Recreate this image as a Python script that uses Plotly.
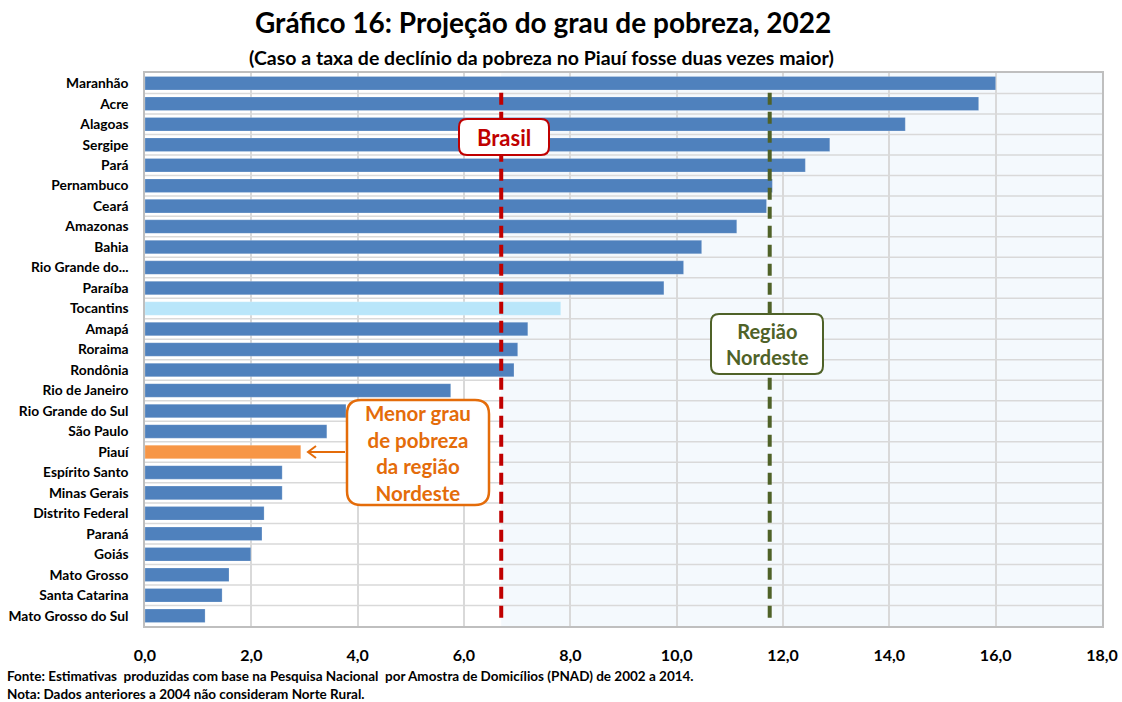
import plotly.graph_objects as go

states = ["Maranhão", "Acre", "Alagoas", "Sergipe", "Pará", "Pernambuco", "Ceará",
          "Amazonas", "Bahia", "Rio Grande do...", "Paraíba", "Tocantins", "Amapá",
          "Roraima", "Rondônia", "Rio de Janeiro", "Rio Grande do Sul", "São Paulo",
          "Piauí", "Espírito Santo", "Minas Gerais", "Distrito Federal", "Paraná",
          "Goiás", "Mato Grosso", "Santa Catarina", "Mato Grosso do Sul"]
values = [16.0, 15.68, 14.3, 12.88, 12.42, 11.8, 11.69, 11.13, 10.47, 10.13, 9.76,
          7.82, 7.2, 7.01, 6.94, 5.75, 3.78, 3.42, 2.93, 2.58, 2.58, 2.24, 2.2,
          1.99, 1.58, 1.45, 1.13]
brasil_value = 6.7
nordeste_value = 11.75
x_ticks = [0, 2, 4, 6, 8, 10, 12, 14, 16, 18]
x_tick_labels = ["0,0", "2,0", "4,0", "6,0", "8,0", "10,0", "12,0", "14,0", "16,0", "18,0"]

BLUE = "#4F81BD"
colors = []
for s in states:
    if s == "Piauí":
        colors.append("#F79646")
    elif s == "Tocantins":
        colors.append("#B9E6FA")
    else:
        colors.append(BLUE)

FONT = "Lato, Carlito, Calibri, sans-serif"

# layout geometry (pixels)
W, H = 1122, 702
L, R, T, B = 145, 20, 73, 76
PW = W - L - R
PH = H - T - B


def pxx(x):
    return (x - L) / PW


def pxy(y):
    return (H - B - y) / PH


def rounded_box(x0, y0, x1, y1, r=8):
    rx = r / PW
    ry = r / PH
    X0, X1 = pxx(x0), pxx(x1)
    Y0, Y1 = pxy(y1), pxy(y0)  # bottom, top in paper
    return (f"M {X0+rx},{Y1} L {X1-rx},{Y1} Q {X1},{Y1} {X1},{Y1-ry} "
            f"L {X1},{Y0+ry} Q {X1},{Y0} {X1-rx},{Y0} "
            f"L {X0+rx},{Y0} Q {X0},{Y0} {X0},{Y0+ry} "
            f"L {X0},{Y1-ry} Q {X0},{Y1} {X0+rx},{Y1} Z")


fig = go.Figure()
fig.add_trace(go.Bar(
    y=states, x=values, orientation="h",
    marker=dict(color=colors, line=dict(color="rgba(255,255,255,0.4)", width=0.5)),
    width=0.66, showlegend=False, hoverinfo="x+y",
))

shapes = []
# shaded region to the right of Brasil line
shapes.append(dict(type="rect", xref="x", yref="paper", x0=brasil_value, x1=18,
                   y0=0, y1=1, fillcolor="#F4F9FD", line=dict(width=0), layer="below"))
# horizontal grid lines between categories
for i in range(len(states) - 1):
    shapes.append(dict(type="line", xref="paper", yref="y", x0=0, x1=1,
                       y0=i + 0.5, y1=i + 0.5, line=dict(color="#D9D9D9", width=1.5),
                       layer="below"))
# reference lines
shapes.append(dict(type="line", xref="x", yref="paper", x0=brasil_value, x1=brasil_value,
                   y0=0.015, y1=0.975, line=dict(color="#C00000", width=4, dash="12px,7px")))
shapes.append(dict(type="line", xref="x", yref="paper", x0=nordeste_value, x1=nordeste_value,
                   y0=0.015, y1=0.975, line=dict(color="#4F6228", width=4, dash="12px,7px")))
# annotation boxes
shapes.append(dict(type="path", xref="paper", yref="paper", path=rounded_box(459, 119, 549, 155),
                   fillcolor="white", line=dict(color="#C00000", width=2)))
shapes.append(dict(type="path", xref="paper", yref="paper", path=rounded_box(711, 314, 823, 374),
                   fillcolor="white", line=dict(color="#4F6228", width=2)))
shapes.append(dict(type="path", xref="paper", yref="paper", path=rounded_box(347, 400, 489, 505, 14),
                   fillcolor="white", line=dict(color="#E46C0A", width=2.5)))
# arrow to Piauí
shapes.append(dict(type="line", xref="paper", yref="paper", x0=pxx(345), x1=pxx(308),
                   y0=pxy(452), y1=pxy(452), line=dict(color="#E46C0A", width=2)))
shapes.append(dict(type="path", xref="paper", yref="paper",
                   path=f"M {pxx(316)},{pxy(446)} L {pxx(308)},{pxy(452)} L {pxx(316)},{pxy(458)}",
                   line=dict(color="#E46C0A", width=2)))


def ann(text, x, y, size, color, xanchor="center"):
    return dict(text=text, xref="paper", yref="paper", x=pxx(x), y=pxy(y),
                xanchor=xanchor, yanchor="middle", showarrow=False,
                font=dict(family=FONT, size=size, color=color))


annotations = [
    ann("<b>Brasil</b>", 504, 137, 22, "#C00000"),
    ann("<b>Região<br>Nordeste</b>", 767, 344, 20, "#4F6228"),
    ann("<b>Menor grau<br>de pobreza<br>da região<br>Nordeste</b>", 418, 453, 20.5, "#E46C0A"),
    ann("<b>Gráfico 16: Projeção do grau de pobreza, 2022</b>", 543, 22, 28, "black"),
    ann("<b>(Caso a taxa de declínio da pobreza no Piauí fosse duas vezes maior)</b>", 541, 57, 19.5, "black"),
    ann("<b>Fonte: Estimativas  produzidas com base na Pesquisa Nacional  por Amostra de Domicílios (PNAD) de 2002 a 2014.</b>",
        5, 676, 13.5, "black", xanchor="left"),
    ann("<b>Nota: Dados anteriores a 2004 não consideram Norte Rural.</b>", 5, 694, 13.5, "black", xanchor="left"),
]

fig.update_layout(
    width=W, height=H,
    margin=dict(l=L, r=R, t=T, b=B, autoexpand=False),
    paper_bgcolor="white", plot_bgcolor="white",
    shapes=shapes, annotations=annotations,
    font=dict(family=FONT, color="black"),
    xaxis=dict(range=[0, 18], tickvals=x_ticks, ticktext=[f"<b>{t}</b>" for t in x_tick_labels],
               showgrid=True, gridcolor="#D9D9D9", gridwidth=1.5, zeroline=False,
               showline=True, linecolor="#BFBFBF", linewidth=1.5, mirror=True, automargin=False,
               ticks="", tickfont=dict(family=FONT, size=16, color="black"), ticklabelstandoff=14),
    yaxis=dict(autorange="reversed", showgrid=False, categoryorder="array", categoryarray=states,
               tickvals=states, ticktext=[f"<b>{s}</b>" for s in states], automargin=False,
               showline=True, linecolor="#BFBFBF", linewidth=1.5, mirror=True,
               ticks="", tickfont=dict(family=FONT, size=13.8, color="black"), ticklabelstandoff=12),
    bargap=0.34,
)

fig.write_html("out.html", config={"displayModeBar": False},
               post_script="document.body.style.margin='0';")
